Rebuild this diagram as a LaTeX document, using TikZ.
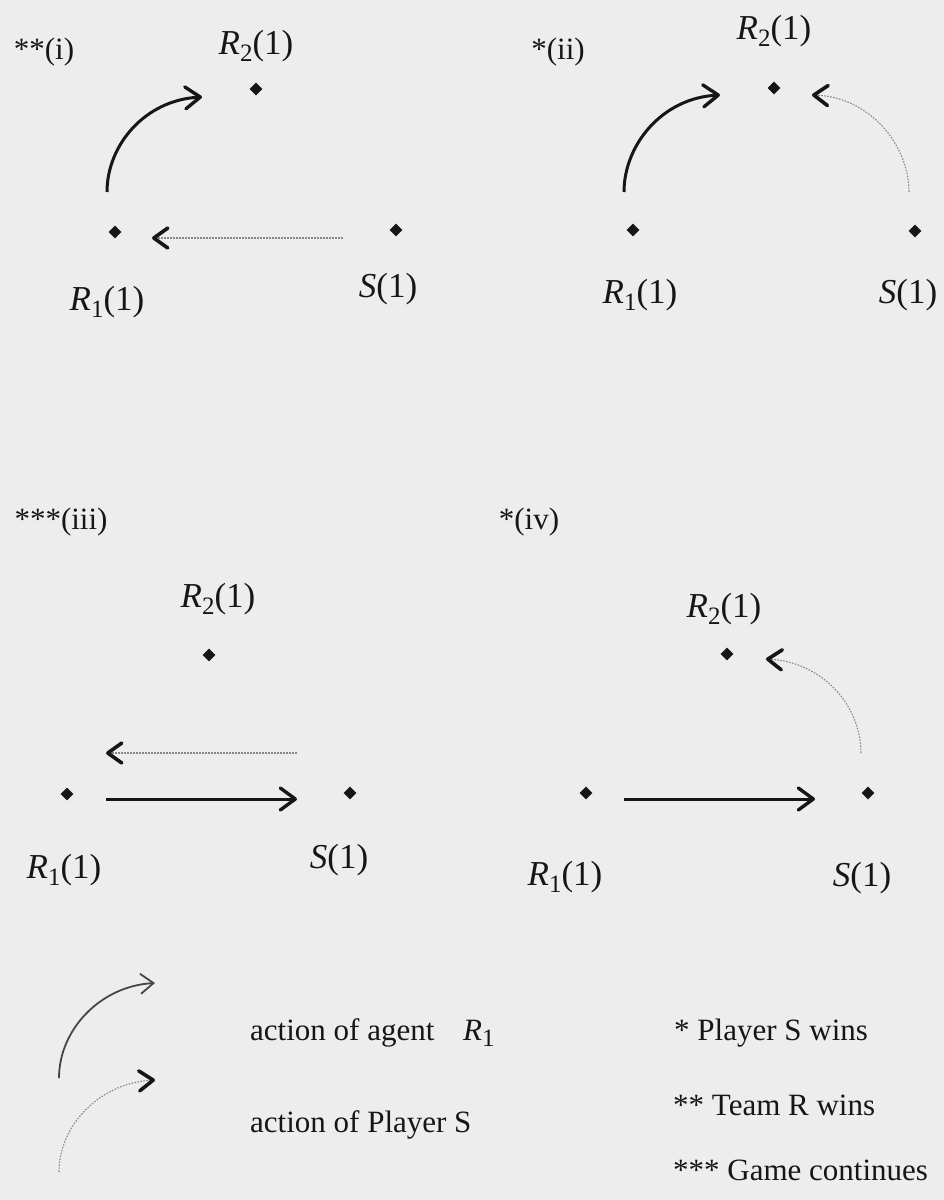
\documentclass[tikz,border=0pt]{standalone}
\usepackage{fontspec}
\setmainfont{Liberation Serif}
\usetikzlibrary{arrows.meta,shapes.geometric}
\definecolor{bg}{RGB}{237,237,237}
\definecolor{ink}{RGB}{22,22,22}
\definecolor{dotline}{RGB}{135,135,135}
\definecolor{legink}{RGB}{70,70,70}
\newcommand{\Rsub}[1]{\textit{R}\raisebox{-0.2em}{\fontsize{25pt}{25pt}\selectfont #1}}
\tikzset{
  pt/.style={diamond, fill=ink, inner sep=0pt, minimum size=13pt},
  lab/.style={font=\fontsize{35pt}{35pt}\selectfont, text=ink, inner sep=0pt},
  head/.style={font=\fontsize{31pt}{31pt}\selectfont, text=ink, inner sep=0pt},
  leg/.style={font=\fontsize{31pt}{31pt}\selectfont, text=ink, inner sep=0pt, anchor=base west},
  agent/.style={draw=ink, line width=3pt, -{Straight Barb[length=15pt,width=22pt,line width=3.4pt,round]}},
  legagent/.style={draw=legink, line width=1.8pt, -{Straight Barb[length=13pt,width=20pt,line width=1.8pt]}},
  player/.style={draw=dotline, line width=1.1pt, dash pattern=on 1.6pt off 1.4pt,
    -{Straight Barb[length=14pt,width=20pt,line width=3.6pt,color=ink,round]}},
}
\begin{document}
\begin{tikzpicture}[x=1pt,y=-1pt]
\fill[bg] (0,0) rectangle (944,1200);

% ---------- panel (i)
\node[head] (hi) at (44,52) {**(i)};
\node[lab] (Li2) at (256,46) {\Rsub{2}(1)};
\node[pt] (i2) at (256,89) {};
\node[pt] (i1) at (115,232) {};
\node[pt] (is) at (396,230) {};
\node[lab] (Li1) at (107,302) {\Rsub{1}(1)};
\node[lab] (Lis) at (388,289) {\textit{S}(1)};
\coordinate (ia0) at (107,192);
\coordinate (ia1) at (202,97);
\coordinate (ip0) at (343,238);
\coordinate (ip1) at (152,238);
\draw[agent] (ia0) .. controls (107,145) and (145,100) .. (ia1);
\draw[player] (ip0) -- (ip1);

% ---------- panel (ii)
\node[head] (hii) at (558,52) {*(ii)};
\node[lab] (Lii2) at (774,31) {\Rsub{2}(1)};
\node[pt] (ii2) at (774,88) {};
\node[pt] (ii1) at (633,230) {};
\node[pt] (iis) at (915,231) {};
\node[lab] (Lii1) at (640,295) {\Rsub{1}(1)};
\node[lab] (Liis) at (908,295) {\textit{S}(1)};
\coordinate (iia0) at (624,192);
\coordinate (iia1) at (720,95);
\coordinate (iip0) at (909,192);
\coordinate (iip1) at (812,95);
\draw[agent] (iia0) .. controls (624,145) and (662,98) .. (iia1);
\draw[player] (iip0) .. controls (909,145) and (870,97) .. (iip1);

% ---------- panel (iii)
\node[head] (hiii) at (61,522) {***(iii)};
\node[lab] (Liii2) at (218,599) {\Rsub{2}(1)};
\node[pt] (iii2) at (209,655) {};
\node[pt] (iii1) at (67,794) {};
\node[pt] (iiis) at (350,793) {};
\node[lab] (Liii1) at (64,870) {\Rsub{1}(1)};
\node[lab] (Liiis) at (339,860) {\textit{S}(1)};
\coordinate (iiip0) at (297,753);
\coordinate (iiip1) at (106,753);
\coordinate (iiia0) at (106,799);
\coordinate (iiia1) at (297,799);
\draw[player] (iiip0) -- (iiip1);
\draw[agent] (iiia0) -- (iiia1);

% ---------- panel (iv)
\node[head] (hiv) at (529,522) {*(iv)};
\node[lab] (Liv2) at (724,609) {\Rsub{2}(1)};
\node[pt] (iv2) at (727,654) {};
\node[pt] (iv1) at (586,793) {};
\node[pt] (ivs) at (868,793) {};
\node[lab] (Liv1) at (565,877) {\Rsub{1}(1)};
\node[lab] (Livs) at (862,878) {\textit{S}(1)};
\coordinate (ivp0) at (861,753);
\coordinate (ivp1) at (766,659);
\coordinate (iva0) at (624,799);
\coordinate (iva1) at (815,799);
\draw[player] (ivp0) .. controls (861,705) and (822,662) .. (ivp1);
\draw[agent] (iva0) -- (iva1);

% ---------- legend
\coordinate (la0) at (59,1078);
\coordinate (la1) at (155,983);
\coordinate (lp0) at (59,1172);
\coordinate (lp1) at (155,1080);
\draw[legagent] (la0) .. controls (59,1030) and (100,986) .. (la1);
\draw[player] (lp0) .. controls (59,1125) and (100,1083) .. (lp1);
\node[leg] (ta) at (250,1040) {action of agent};
\node[leg] (tr) at (463,1040) {\Rsub{1}};
\node[leg] (tp) at (250,1132) {action of Player S};
\node[leg] (k1) at (674,1040) {* Player S wins};
\node[leg] (k2) at (673,1115) {** Team R wins};
\node[leg] (k3) at (673,1180) {*** Game continues};
\end{tikzpicture}
\end{document}
